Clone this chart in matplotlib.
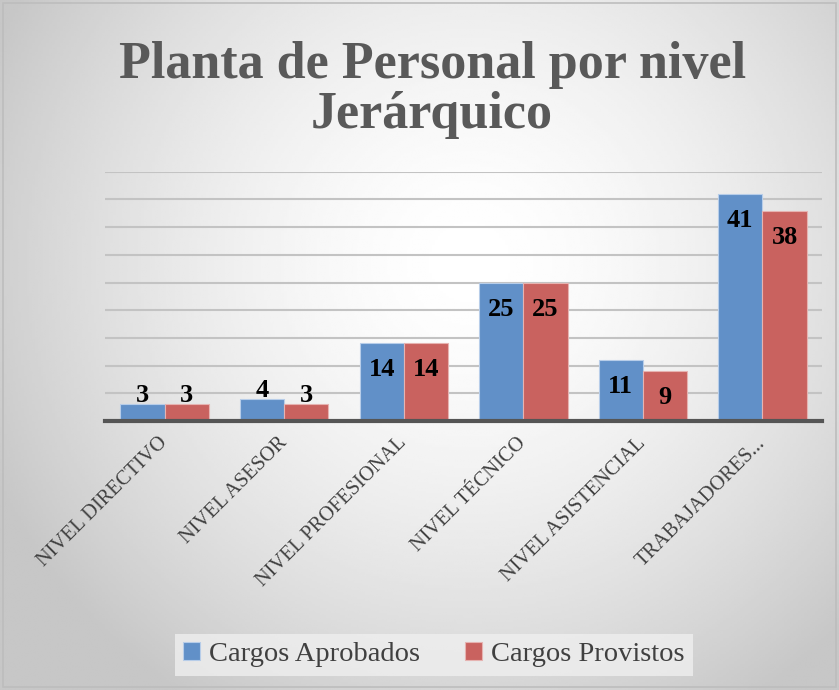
import numpy as np
import matplotlib
matplotlib.use("Agg")
import matplotlib.pyplot as plt
from matplotlib.patches import Rectangle

categories = ['NIVEL DIRECTIVO', 'NIVEL ASESOR', 'NIVEL PROFESIONAL',
              'NIVEL TÉCNICO', 'NIVEL ASISTENCIAL', 'TRABAJADORES...']
aprobados = [3, 4, 14, 25, 11, 41]
provistos = [3, 3, 14, 25, 9, 38]
series_names = ['Cargos Aprobados', 'Cargos Provistos']
title = 'Planta de Personal por nivel\nJerárquico'

serif = ['Liberation Serif', 'DejaVu Serif']
blue = '#6190c8'
red = '#c9625f'

fig = plt.figure(figsize=(8.39, 6.90), dpi=100)

# fondo con degradado radial
bg = fig.add_axes([0, 0, 1, 1], zorder=-10)
yy, xx = np.mgrid[0:1:300j, 0:1:300j]
r = np.sqrt(((xx - 0.56) * 1.2) ** 2 + ((yy - 0.62) * 1.0) ** 2)
shade = 1 - 0.22 * np.clip(r / 0.75, 0, 1) ** 1.6
bg.imshow(shade, cmap='gray', vmin=0, vmax=1, extent=[0, 1, 0, 1],
          origin='lower', aspect='auto')
bg.axis('off')
fig.patches.append(Rectangle((0.003, 0.004), 0.994, 0.992, transform=fig.transFigure,
                             fill=False, edgecolor='#bdbdbd', lw=1.2))

ax = fig.add_axes([0.125, 0.39, 0.855, 0.361])
ax.patch.set_alpha(0)
x = np.arange(len(categories))
w = 0.37
b1 = ax.bar(x - w / 2, aprobados, w, color=blue, edgecolor='#b7cde9', lw=0.8,
            label=series_names[0], zorder=3)
b2 = ax.bar(x + w / 2, provistos, w, color=red, edgecolor='#e6b3b1', lw=0.8,
            label=series_names[1], zorder=3)

for bars, vals in ((b1, aprobados), (b2, provistos)):
    for rect, v in zip(bars, vals):
        y = v + 1.5 if v < 6 else v - 4.8
        ax.text(rect.get_x() + rect.get_width() / 2, y, str(v), ha='center',
                va='center', fontsize=19, fontweight='bold', family=serif,
                color='black', zorder=4)

ax.set_ylim(0, 45)
ax.set_xlim(-0.5, len(categories) - 0.5)
ax.set_yticks(np.arange(5, 46, 5))
ax.yaxis.grid(True, color='#c3c3c3', lw=1.5, zorder=0)
ax.tick_params(axis='y', left=False, labelleft=False)
ax.tick_params(axis='x', length=0, pad=14)
for s in ['top', 'right', 'left']:
    ax.spines[s].set_visible(False)
ax.spines['bottom'].set_color('#555555')
ax.spines['bottom'].set_linewidth(3)
ax.spines['bottom'].set_zorder(5)
ax.set_xticks(x)
ax.set_xticklabels(categories, rotation=45, ha='right', va='center',
                   rotation_mode='anchor', fontsize=14.7, family=serif, color='#404040')

fig.text(0.515, 0.869, title, ha='center', va='center', fontsize=37.5,
         fontweight='bold', family=serif, color='#595959', linespacing=1.05)

leg = fig.legend(loc='center', bbox_to_anchor=(0.517, 0.051), ncol=2,
                 frameon=True, fancybox=False,
                 prop={'family': serif, 'size': 20.5},
                 handlelength=0.6, handleheight=0.6, handletextpad=0.3,
                 columnspacing=1.6, borderpad=0.3, borderaxespad=0)
leg.get_frame().set_facecolor('#efefef')
leg.get_frame().set_edgecolor('none')
for t in leg.get_texts():
    t.set_color('#404040')

fig.savefig('out.png', dpi=100)
